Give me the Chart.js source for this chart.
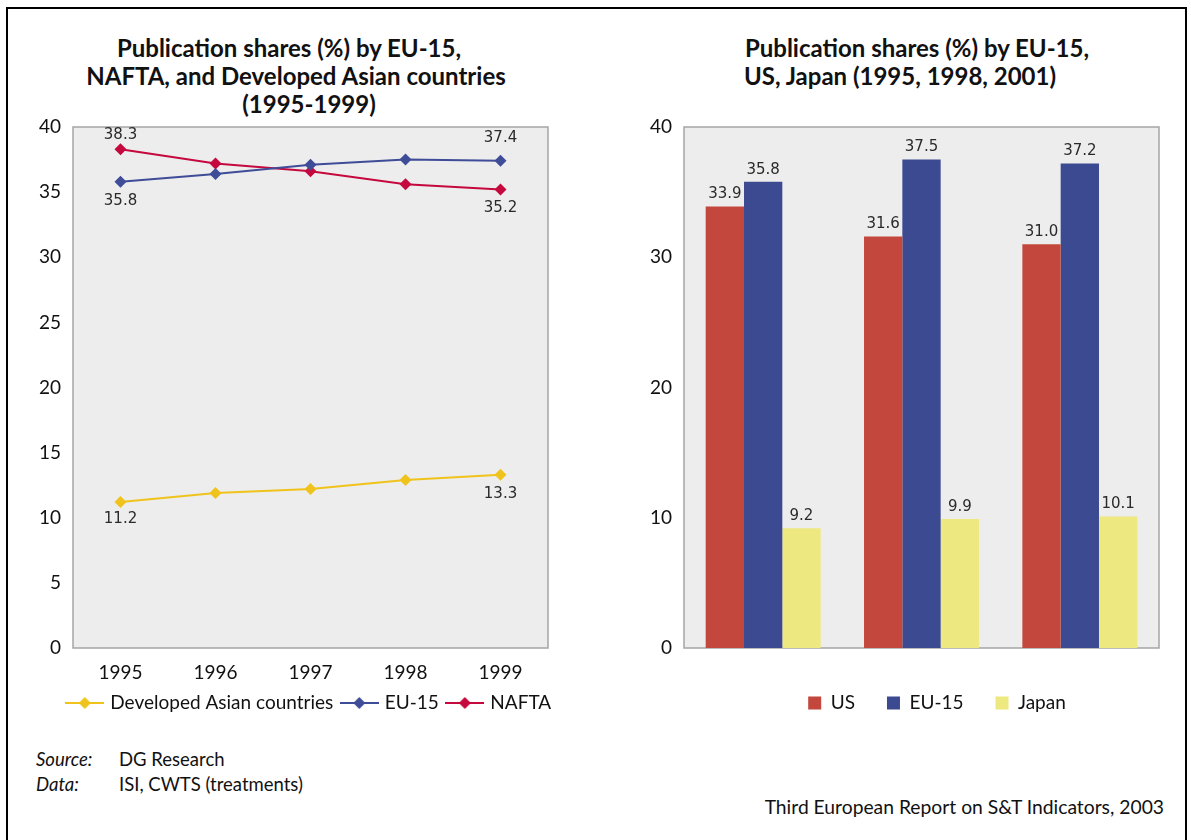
<!DOCTYPE html>
<html>
<head>
<meta charset="utf-8">
<script src="https://cdn.jsdelivr.net/npm/chart.js@4/dist/chart.umd.min.js"></script>
<style>
  html, body { margin: 0; padding: 0; background: #fff; }
  body { width: 1191px; height: 840px; position: relative; overflow: hidden; font-family: Lato, sans-serif; color: #111; }
  .frame { position: absolute; left: 6px; top: 7px; width: 1177px; height: 900px; border: 2px solid #000; }
  .title { position: absolute; font-weight: bold; font-size: 24px; white-space: nowrap; transform: translate(-50%, -50%); }
  .note { position: absolute; font-size: 18.5px; white-space: nowrap; line-height: 20px; }
  canvas { position: absolute; }
</style>
</head>
<body>
<div class="frame"></div>

<div class="title" style="left:289px; top:47px">Publication shares (%) by EU-15,</div>
<div class="title" style="left:296px; top:75px">NAFTA, and Developed Asian countries</div>
<div class="title" style="left:309px; top:103px">(1995-1999)</div>

<div class="title" style="left:917px; top:47px">Publication shares (%) by EU-15,</div>
<div class="title" style="left:900px; top:75px">US, Japan (1995, 1998, 2001)</div>

<canvas id="lineCanvas" width="580" height="624" style="left:0; top:100px"></canvas>
<canvas id="barCanvas" width="590" height="624" style="left:600px; top:100px"></canvas>

<div class="note" style="left:36px; top:749px; font-style:italic">Source:</div>
<div class="note" style="left:119px; top:749px">DG Research</div>
<div class="note" style="left:36px; top:774px; font-style:italic">Data:</div>
<div class="note" style="left:119px; top:774px">ISI, CWTS (treatments)</div>
<div class="note" style="right:27px; top:797px; font-size:19.3px">Third European Report on S&amp;T Indicators, 2003</div>

<script>
// shares 1995-1999
const years = ["1995", "1996", "1997", "1998", "1999"];
const asiaShare = [11.2, 11.9, 12.2, 12.9, 13.3];
const euShare = [35.8, 36.4, 37.1, 37.5, 37.4];
const naftaShare = [38.3, 37.2, 36.6, 35.6, 35.2];

// shares for three snapshot years
const barYears = ["1995", "1998", "2001"];
const usShare = [33.9, 31.6, 31.0];
const eu15Share = [35.8, 37.5, 37.2];
const japanShare = [9.2, 9.9, 10.1];

const yMax = 40;

Chart.defaults.font.family = "Lato";
Chart.defaults.font.size = 19;
Chart.defaults.color = "#111";

// grey plotting area with a thin border
const plotFrame = {
  id: "plotFrame",
  beforeDatasetsDraw(chart) {
    const { ctx, chartArea: a } = chart;
    ctx.save();
    ctx.fillStyle = "#ededed";
    ctx.fillRect(a.left, a.top, a.width, a.height);
    ctx.strokeStyle = "#a5a5a5";
    ctx.lineWidth = 1.5;
    ctx.strokeRect(a.left, a.top, a.width, a.height);
    ctx.restore();
  }
};

// value labels next to selected points / on top of bars
const valueLabels = {
  id: "valueLabels",
  afterDatasetsDraw(chart) {
    const ctx = chart.ctx;
    ctx.save();
    ctx.font = '15px "DejaVu Sans"';
    ctx.fillStyle = "#2a2a2a";
    ctx.textAlign = "center";
    ctx.textBaseline = "middle";
    chart.data.datasets.forEach((ds, i) => {
      if (!ds.valueLabels) return;
      const meta = chart.getDatasetMeta(i);
      ds.valueLabels.forEach(lab => {
        const el = meta.data[lab.index];
        ctx.fillText(ds.data[lab.index].toFixed(1), el.x + (lab.dx || 0), el.y + lab.dy);
      });
    });
    ctx.restore();
  }
};

// moves the legend row sideways
const legendShift = {
  id: "legendShift",
  afterLayout(chart, args, opts) {
    const lg = chart.legend;
    if (lg && opts.dx) {
      lg.left += opts.dx;
      lg.right += opts.dx;
    }
  }
};

function lineIcon(color) {
  const c = document.createElement("canvas");
  c.width = 39;
  c.height = 14;
  const g = c.getContext("2d");
  g.strokeStyle = color;
  g.lineWidth = 2;
  g.beginPath();
  g.moveTo(0, 7);
  g.lineTo(39, 7);
  g.stroke();
  g.fillStyle = color;
  g.beginPath();
  g.moveTo(19.5, 1);
  g.lineTo(25.5, 7);
  g.lineTo(19.5, 13);
  g.lineTo(13.5, 7);
  g.closePath();
  g.fill();
  return c;
}

const lineColors = ["#f0c31c", "#3f4c97", "#c5083d"];
const lineIcons = lineColors.map(lineIcon);

function lineSeries(label, data, color, valueLabels) {
  return {
    label: label,
    data: data,
    borderColor: color,
    backgroundColor: color,
    borderWidth: 2,
    pointStyle: "rectRot",
    pointRadius: 6,
    pointBorderWidth: 0,
    tension: 0,
    valueLabels: valueLabels
  };
}

const lineCanvas = document.getElementById("lineCanvas");
new Chart(lineCanvas.getContext("2d"), {
  type: "line",
  data: {
    labels: years,
    datasets: [
      lineSeries("Developed Asian countries", asiaShare, lineColors[0], [{ index: 0, dy: 17 }, { index: 4, dy: 19 }]),
      lineSeries("EU-15", euShare, lineColors[1], [{ index: 0, dy: 19 }, { index: 4, dy: -23 }]),
      lineSeries("NAFTA", naftaShare, lineColors[2], [{ index: 0, dy: -14 }, { index: 4, dy: 19 }])
    ]
  },
  options: {
    responsive: false,
    animation: false,
    layout: { padding: { left: 20, right: 32, top: 27, bottom: 1.5 } },
    scales: {
      x: {
        offset: true,
        grid: { display: false, drawTicks: false },
        border: { display: false },
        ticks: { padding: 13.5 },
        afterFit(scale) { scale.height = 35.5; }
      },
      y: {
        min: 0,
        max: yMax,
        grid: { display: false, drawTicks: false },
        border: { display: false },
        ticks: { stepSize: 5, padding: 12 },
        afterFit(scale) { scale.width = 53; }
      }
    },
    plugins: {
      tooltip: { enabled: false },
      legendShift: { dx: 26 },
      legend: {
        position: "bottom",
        labels: {
          usePointStyle: true,
          pointStyleWidth: 32,
          padding: 10,
          generateLabels(chart) {
            const items = Chart.defaults.plugins.legend.labels.generateLabels(chart);
            items.forEach(it => { it.pointStyle = lineIcons[it.datasetIndex]; });
            return items;
          }
        }
      }
    }
  },
  plugins: [plotFrame, valueLabels, legendShift]
});

const barCanvas = document.getElementById("barCanvas");
const barLabelDy = -12;
new Chart(barCanvas.getContext("2d"), {
  type: "bar",
  data: {
    labels: barYears,
    datasets: [
      { label: "US", data: usShare, backgroundColor: "#c3473c", valueLabels: usShare.map((v, i) => ({ index: i, dy: barLabelDy })) },
      { label: "EU-15", data: eu15Share, backgroundColor: "#3c4b91", valueLabels: eu15Share.map((v, i) => ({ index: i, dy: barLabelDy })) },
      { label: "Japan", data: japanShare, backgroundColor: "#ede87f", valueLabels: japanShare.map((v, i) => ({ index: i, dy: barLabelDy })) }
    ]
  },
  options: {
    responsive: false,
    animation: false,
    categoryPercentage: 0.726,
    barPercentage: 1.0,
    layout: { padding: { left: 20, right: 31, top: 27, bottom: 1.5 } },
    scales: {
      x: {
        grid: { display: false, drawTicks: false },
        border: { display: false },
        ticks: { padding: 13.5 },
        afterFit(scale) { scale.height = 13.5; }
      },
      y: {
        min: 0,
        max: yMax,
        grid: { display: false, drawTicks: false },
        border: { display: false },
        ticks: { stepSize: 10, padding: 12 },
        afterFit(scale) { scale.width = 64; }
      }
    },
    plugins: {
      tooltip: { enabled: false },
      legendShift: { dx: 47.5 },
      legend: {
        position: "bottom",
        labels: { boxWidth: 13, boxHeight: 13, padding: 32 }
      }
    }
  },
  plugins: [plotFrame, valueLabels, legendShift]
});
</script>
</body>
</html>
